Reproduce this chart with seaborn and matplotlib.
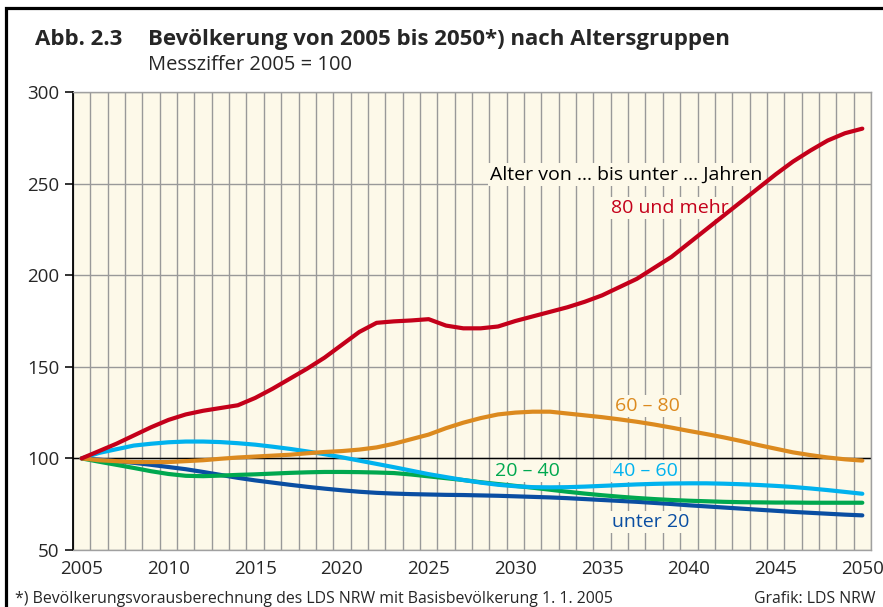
import numpy as np
import pandas as pd
import matplotlib
matplotlib.use('Agg')
import matplotlib.pyplot as plt
from matplotlib.patches import Rectangle
from matplotlib.ticker import MultipleLocator
import seaborn as sns

#%%
'''Data (Messziffer 2005 = 100), read from the chart'''
years = list(range(2005, 2051))

unter_20 = [100, 99.3, 98.5, 97.6, 96.5, 95.3, 94.1, 92.6, 91, 89.4,
            88, 86.8, 85.6, 84.5, 83.5, 82.6, 81.8, 81.2, 80.8, 80.5,
            80.3, 80.1, 80, 79.8, 79.6, 79.3, 79, 78.7, 78.3, 77.8,
            77.3, 76.8, 76.3, 75.7, 75.1, 74.4, 73.8, 73.2, 72.6, 72,
            71.4, 70.8, 70.3, 69.8, 69.3, 68.9]

von_20_40 = [100, 98.2, 96.5, 94.8, 93, 91.5, 90.5, 90.3, 90.6, 91,
             91.3, 91.7, 92.1, 92.4, 92.6, 92.6, 92.5, 92.3, 92, 91.2,
             90.2, 89.2, 88.2, 87, 86, 85, 84, 82.9, 81.8, 80.8,
             79.9, 79.1, 78.4, 77.8, 77.3, 76.9, 76.6, 76.3, 76.1, 76,
             75.9, 75.9, 75.8, 75.8, 75.8, 75.8]

von_40_60 = [100, 103, 105, 107, 108, 108.8, 109.2, 109.2, 108.9, 108.3,
             107.5, 106.4, 105.2, 103.8, 102.3, 100.6, 98.8, 97, 95.2, 93.3,
             91.4, 89.8, 88.2, 86.8, 85.6, 84.8, 84.3, 84.2, 84.3, 84.6,
             85, 85.4, 85.8, 86.1, 86.3, 86.4, 86.4, 86.2, 85.9, 85.5,
             85, 84.4, 83.6, 82.7, 81.7, 80.7]

von_60_80 = [100, 99, 98.5, 98, 98, 98, 98.5, 99, 99.8, 100.5,
             101, 101.5, 102, 102.8, 103.5, 104, 104.8, 106, 108, 110.5,
             113, 116.5, 119.5, 122, 124, 125, 125.5, 125.5, 124.5, 123.5,
             122.5, 121.3, 120, 118.5, 116.8, 115, 113.3, 111.5, 109.5, 107.3,
             105.3, 103.3, 101.8, 100.5, 99.5, 98.8]

ab_80 = [100, 104, 108, 112.5, 117, 121, 124, 126, 127.5, 129,
         133, 138, 143.5, 149, 155, 162, 169, 174, 174.8, 175.3,
         176, 172.5, 171, 171, 172, 175, 177.5, 180, 182.5, 185.5,
         189, 193.5, 198, 204, 210, 217.5, 225, 232.5, 240, 247.5,
         255, 262, 268, 273.5, 277.5, 280]

groups = ['unter 20', '20 – 40', '40 – 60', '60 – 80', '80 und mehr']
series = [unter_20, von_20_40, von_40_60, von_60_80, ab_80]
colors = ['#0a4ea2', '#00a84f', '#00b2ee', '#dc8a1f', '#c4001a']

df = pd.concat([pd.DataFrame({'Jahr': years, 'Wert': s, 'Gruppe': g})
                for g, s in zip(groups, series)], ignore_index=True)

#%%
'''Plot'''
sns.set_theme(style='white')
plt.rcParams['font.family'] = ['Open Sans', 'DejaVu Sans']

bg = '#fdf9e9'
gridc = '#999999'

fig = plt.figure(figsize=(8.83, 6.07), dpi=100)
ax = fig.add_axes([73/883, 57/607, 798/883, 458/607])
ax.set_facecolor(bg)

sns.lineplot(data=df, x='Jahr', y='Wert', hue='Gruppe', hue_order=groups,
             palette=colors, linewidth=3.0, legend=False, ax=ax, zorder=5)
for ln in ax.get_lines():
    ln.set_solid_capstyle('round')

ax.set_xlim(2004.5, 2050.5)
ax.set_ylim(50, 300)
ax.xaxis.set_major_locator(MultipleLocator(5))
ax.xaxis.set_minor_locator(MultipleLocator(1, offset=0.5))
ax.yaxis.set_major_locator(MultipleLocator(50))

ax.grid(False)
ax.grid(which='minor', axis='x', color=gridc, linewidth=1.0, zorder=1)
ax.grid(which='major', axis='y', color=gridc, linewidth=1.0, zorder=1)
ax.set_axisbelow(True)
ax.axhline(100, color='black', linewidth=1.0, zorder=2)

ax.tick_params(axis='y', which='major', left=True, length=6, width=1.3,
               color='#222222', pad=4, labelsize=13.5)
ax.tick_params(axis='x', which='both', bottom=False, length=0, pad=7,
               labelsize=13.5)
ax.set_xlabel('')
ax.set_ylabel('')

for side in ['top', 'right', 'bottom']:
    ax.spines[side].set_color('#a0a0a0')
    ax.spines[side].set_linewidth(1.0)
ax.spines['left'].set_color('black')
ax.spines['left'].set_linewidth(1.3)

# labels in the plot
lab = 14
box = dict(facecolor=bg, edgecolor='none', pad=1.5)
ax.text(2036.4, 255, 'Alter von … bis unter … Jahren', color='black',
        fontsize=lab, ha='center', va='center', bbox=box, zorder=4)
ax.text(2038.9, 236.5, '80 und mehr', color=colors[4],
        fontsize=lab, ha='center', va='center', bbox=box, zorder=4)
ax.text(2037.6, 128.5, '60 – 80', color=colors[3],
        fontsize=lab, ha='center', va='center', bbox=box, zorder=4)
ax.text(2030.7, 93.3, '20 – 40', color=colors[1],
        fontsize=lab, ha='center', va='center', bbox=box, zorder=4)
ax.text(2037.5, 93.3, '40 – 60', color=colors[2],
        fontsize=lab, ha='center', va='center', bbox=box, zorder=4)
ax.text(2037.8, 65.3, 'unter 20', color=colors[0],
        fontsize=lab, ha='center', va='center', bbox=box, zorder=4)

# title, subtitle, footnotes
fig.text(35/883, 1 - 45/607, 'Abb. 2.3', fontsize=16, fontweight='bold',
         va='baseline', ha='left')
fig.text(148/883, 1 - 45/607, 'Bevölkerung von 2005 bis 2050*) nach Altersgruppen',
         fontsize=16, fontweight='bold', va='baseline', ha='left')
fig.text(148/883, 1 - 70/607, 'Messziffer 2005 = 100', fontsize=14.5,
         va='baseline', ha='left')
fig.text(15/883, 1 - 603/607,
         '*) Bevölkerungsvorausberechnung des LDS NRW mit Basisbevölkerung 1. 1. 2005',
         fontsize=11.4, va='baseline', ha='left')
fig.text(876/883, 1 - 603/607, 'Grafik: LDS NRW', fontsize=11.4,
         va='baseline', ha='right')

# frame around the figure
fig.patches.append(Rectangle((5.5/883, -0.1), 1.2, 1 - 8/607 + 0.1,
                             transform=fig.transFigure, fill=False,
                             edgecolor='black', linewidth=2.3))

plt.savefig('out.png', dpi=100, facecolor='white')
